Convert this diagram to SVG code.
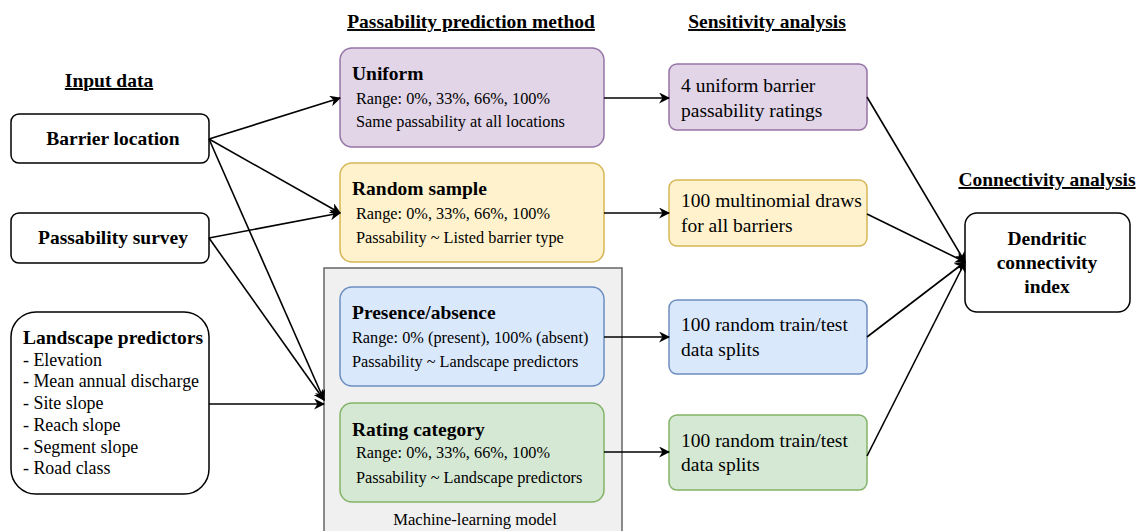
<svg xmlns="http://www.w3.org/2000/svg" width="1141" height="531" viewBox="0 0 1141 531" font-family="'Liberation Serif', Tinos, 'DejaVu Serif', serif">
<style>
text{font-family:'Liberation Serif',Tinos,'DejaVu Serif',serif;fill:#000}
.h{font-size:19.5px;font-weight:bold;text-decoration:underline;text-anchor:middle}
.b{font-size:19.5px;font-weight:bold}
.t{font-size:16.3px}
.l{font-size:17.9px}
.s{font-size:19.5px}
.c{stroke:#000;stroke-width:1.6;fill:none;marker-end:url(#a)}
</style>
<defs>
<marker id="a" viewBox="0 0 10 10" refX="9" refY="5" markerWidth="11" markerHeight="11" markerUnits="userSpaceOnUse" orient="auto">
<path d="M0,0 L10,5 L0,10 L3,5 Z" fill="#000"/>
</marker>
</defs>
<rect width="1141" height="531" fill="#fff"/>
<text class="h" x="109" y="87">Input data</text>
<text class="h" x="471" y="28">Passability prediction method</text>
<text class="h" x="767" y="28">Sensitivity analysis</text>
<text class="h" x="1047" y="186">Connectivity analysis</text>

<g id="ml-model">
<rect x="324" y="268" width="298" height="270" fill="#f0f0f0" stroke="#666" stroke-width="1.5"/>
<text class="t" x="475" y="525" text-anchor="middle" style="font-size:16.6px">Machine-learning model</text>
</g>

<g id="barrier-location">
<rect x="11" y="114" width="198" height="49" rx="8" fill="#fff" stroke="#000" stroke-width="1.5"/>
<text class="b" x="113" y="145" text-anchor="middle">Barrier location</text>
</g>
<g id="passability-survey">
<rect x="11" y="213" width="198" height="50" rx="8" fill="#fff" stroke="#000" stroke-width="1.5"/>
<text class="b" x="113" y="244" text-anchor="middle">Passability survey</text>
</g>
<g id="landscape-predictors">
<rect x="11" y="312" width="198" height="182" rx="25" fill="#fff" stroke="#000" stroke-width="1.5"/>
<text class="b" x="23" y="344">Landscape predictors</text>
<text class="l" x="23" y="366">- Elevation</text>
<text class="l" x="23" y="387">- Mean annual discharge</text>
<text class="l" x="23" y="409">- Site slope</text>
<text class="l" x="23" y="431">- Reach slope</text>
<text class="l" x="23" y="453">- Segment slope</text>
<text class="l" x="23" y="474">- Road class</text>
</g>

<g id="uniform">
<rect x="340" y="48" width="264" height="99" rx="12" fill="#e1d5e7" stroke="#9673a6" stroke-width="1.5"/>
<text class="b" x="352" y="80">Uniform</text>
<text class="t" x="356" y="104">Range: 0%, 33%, 66%, 100%</text>
<text class="t" x="356" y="127">Same passability at all locations</text>
</g>
<g id="random-sample">
<rect x="340" y="163" width="264" height="99" rx="12" fill="#fff2cc" stroke="#d6b656" stroke-width="1.5"/>
<text class="b" x="352" y="195">Random sample</text>
<text class="t" x="356" y="219">Range: 0%, 33%, 66%, 100%</text>
<text class="t" x="356" y="243">Passability ~ Listed barrier type</text>
</g>
<g id="presence-absence">
<rect x="340" y="287" width="264" height="99" rx="12" fill="#dae8fc" stroke="#6c8ebf" stroke-width="1.5"/>
<text class="b" x="352" y="319">Presence/absence</text>
<text class="t" x="352" y="343">Range: 0% (present), 100% (absent)</text>
<text class="t" x="352" y="367">Passability ~ Landscape predictors</text>
</g>
<g id="rating-category">
<rect x="340" y="403" width="264" height="99" rx="12" fill="#d5e8d4" stroke="#82b366" stroke-width="1.5"/>
<text class="b" x="352" y="436">Rating category</text>
<text class="t" x="356" y="458">Range: 0%, 33%, 66%, 100%</text>
<text class="t" x="356" y="483">Passability ~ Landscape predictors</text>
</g>

<g id="sens-uniform">
<rect x="669" y="64" width="198" height="66" rx="8" fill="#e1d5e7" stroke="#9673a6" stroke-width="1.5"/>
<text class="s" x="681" y="92">4 uniform barrier</text>
<text class="s" x="681" y="117">passability ratings</text>
</g>
<g id="sens-random">
<rect x="669" y="180" width="198" height="66" rx="8" fill="#fff2cc" stroke="#d6b656" stroke-width="1.5"/>
<text class="s" x="681" y="207">100 multinomial draws</text>
<text class="s" x="681" y="232">for all barriers</text>
</g>
<g id="sens-presence">
<rect x="669" y="300" width="198" height="74" rx="8" fill="#dae8fc" stroke="#6c8ebf" stroke-width="1.5"/>
<text class="s" x="681" y="331">100 random train/test</text>
<text class="s" x="681" y="356">data splits</text>
</g>
<g id="sens-rating">
<rect x="669" y="415" width="198" height="75" rx="8" fill="#d5e8d4" stroke="#82b366" stroke-width="1.5"/>
<text class="s" x="681" y="447">100 random train/test</text>
<text class="s" x="681" y="471">data splits</text>
</g>

<g id="dendritic">
<rect x="965" y="213" width="165" height="99" rx="12" fill="#fff" stroke="#000" stroke-width="1.5"/>
<text class="b" x="1047" y="245" text-anchor="middle">Dendritic</text>
<text class="b" x="1047" y="269" text-anchor="middle">connectivity</text>
<text class="b" x="1047" y="293" text-anchor="middle">index</text>
</g>

<g id="connectors">
<path class="c" d="M209,139 L340,98"/>
<path class="c" d="M209,139 L340,213"/>
<path class="c" d="M209,139 L324,400"/>
<path class="c" d="M209,238 L340,213"/>
<path class="c" d="M209,238 L324,400"/>
<path class="c" d="M209,404 L324,404"/>
<path class="c" d="M604,98 L669,98"/>
<path class="c" d="M604,213 L669,213"/>
<path class="c" d="M604,337 L669,337"/>
<path class="c" d="M604,452 L669,452"/>
<path class="c" d="M867,97 L965,262"/>
<path class="c" d="M867,214 L965,262"/>
<path class="c" d="M867,337 L965,262"/>
<path class="c" d="M867,456 L965,262"/>
</g>
</svg>
